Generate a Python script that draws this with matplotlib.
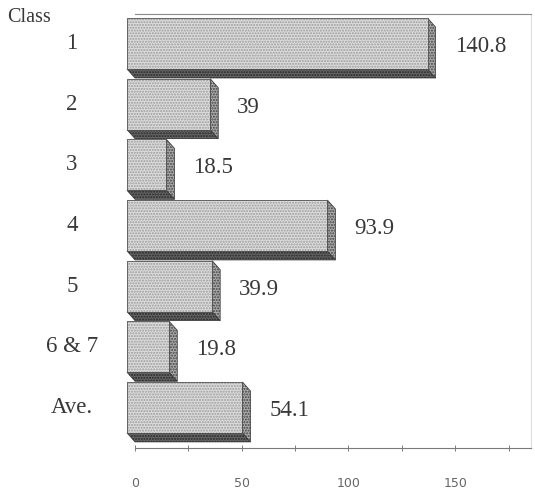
import numpy as np
import matplotlib
matplotlib.use("Agg")
import matplotlib.pyplot as plt
from matplotlib.patches import Polygon, Rectangle

# ---- data -------------------------------------------------------------
classes = ["1", "2", "3", "4", "5", "6 & 7", "Ave."]
values = [140.8, 39, 18.5, 93.9, 39.9, 19.8, 54.1]
value_labels = ["140.8", "39", "18.5", "93.9", "39.9", "19.8", "54.1"]
tick_major = [0, 50, 100, 150]
tick_minor = [25, 75, 125, 175]

# ---- figure / axes ----------------------------------------------------
W, H, DPI = 535, 491, 100
fig = plt.figure(figsize=(W / DPI, H / DPI), dpi=DPI)
ax = fig.add_axes([135 / W, 43 / H, (531 - 135) / W, (448 - 14) / H])
ax.set_xlim(0, 185.5)
ax.set_ylim(6.52, -0.635)

serif = "Liberation Serif"
txt_color = "#383838"

# depth of the extruded bars, in pixels (front face sits up-left of the back)
depth_x_px, depth_y_px = 8, 9
p0 = ax.transData.transform((0, 0))
p1 = ax.transData.transform((1, 1))
dx = depth_x_px / abs(p1[0] - p0[0])
dy = depth_y_px / abs(p1[1] - p0[1])

bar_h = 0.84


def hatched(poly_cls, *args, face, dots, hatch, edge, lw, **kw):
    """Add a filled, stippled patch plus a separate outline."""
    fill = poly_cls(*args, facecolor=face, edgecolor=dots, hatch=hatch,
                    linewidth=0, clip_on=False, **kw)
    ax.add_patch(fill)
    line = poly_cls(*args, facecolor="none", edgecolor=edge, linewidth=lw,
                    clip_on=False, **kw)
    ax.add_patch(line)


for i, (v, lab) in enumerate(zip(values, value_labels)):
    c = i
    b_top, b_bot = c - bar_h / 2, c + bar_h / 2
    f_top, f_bot = b_top - dy, b_bot - dy
    f_left, f_right = -dx, v - dx

    # bottom face
    hatched(Polygon, [(f_left, f_bot), (f_right, f_bot), (v, b_bot), (0, b_bot)],
            face="#666666", dots="#262626", hatch="......", edge="#333333", lw=0.5)
    # side face
    hatched(Polygon, [(f_right, f_top), (v, b_top), (v, b_bot), (f_right, f_bot)],
            face="#aaaaaa", dots="#444444", hatch="......", edge="#333333", lw=0.5)
    # front face
    hatched(Rectangle, (f_left, f_top), v, bar_h,
            face="#dcdcdc", dots="#9c9c9c", hatch="......", edge="#555555", lw=0.6)

    # value label to the right of the bar
    ax.annotate(lab, xy=(v, c - dy), xytext=(19, -3), textcoords="offset pixels",
                ha="left", va="center", fontsize=16.5, family=serif,
                color=txt_color, annotation_clip=False)

    # class label on the left
    ax.annotate(classes[i], xy=(72, c - dy), xycoords=("figure pixels", "data"),
                ha="center", va="center", fontsize=16.5, family=serif,
                color=txt_color, annotation_clip=False)

fig.text(7 / W, 1 - 18 / H, "Class", ha="left", va="center",
         fontsize=14.5, family=serif, color=txt_color)

# ---- frame and ticks --------------------------------------------------
ax.spines["left"].set_visible(False)
ax.spines["top"].set_color("#8a8a8a")
ax.spines["top"].set_linewidth(0.8)
ax.spines["right"].set_color("#dddddd")
ax.spines["right"].set_linewidth(0.8)
ax.spines["bottom"].set_color("#7a7a7a")
ax.spines["bottom"].set_linewidth(0.8)

ax.set_yticks([])
ax.set_xticks(tick_major)
ax.set_xticks(tick_minor, minor=True)
ax.set_xticklabels([str(t) for t in tick_major])
ax.tick_params(axis="x", which="both", direction="inout", length=4,
               width=0.7, color="#7a7a7a")
ax.tick_params(axis="x", which="major", pad=19, labelsize=9,
               labelcolor="#666666")
ax.patch.set_visible(False)

fig.savefig("out.png", dpi=DPI)
